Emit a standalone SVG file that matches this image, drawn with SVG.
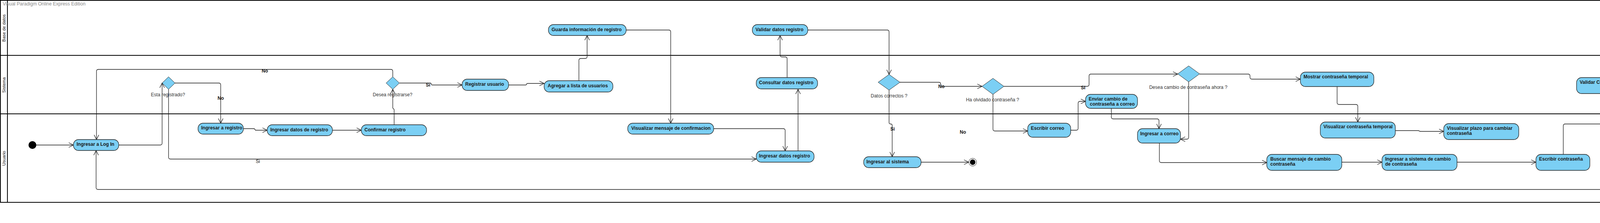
<svg xmlns="http://www.w3.org/2000/svg" width="4994" height="572" viewBox="0 0 4994 572">
<style>
.lane{fill:none;stroke:#000;stroke-width:2}
.lanelbl{font-family:"Liberation Sans",Arial,sans-serif;font-size:11px;fill:#111;text-anchor:middle}
.wm{font-family:"Liberation Sans",Arial,sans-serif;font-size:12px;fill:#8a8a8a}
.node rect{fill:#7BCFF4;stroke:#222;stroke-width:1.3}
.node text{font-family:"Liberation Sans",Arial,sans-serif;font-size:12px;font-weight:bold;fill:#1a1a1a}
.dec polygon{fill:#7BCFF4;stroke:#222;stroke-width:1}
.dec text{font-family:"Liberation Sans",Arial,sans-serif;font-size:12px;fill:#333;text-anchor:middle}
.edges path{fill:none;stroke:#1a1a1a;stroke-width:1.3;marker-end:url(#arr)}
.elabel{font-family:"Liberation Sans",Arial,sans-serif;font-size:12px;fill:#111;text-anchor:middle}
.b{font-weight:bold}
</style>
<defs>
<marker id="arr" markerUnits="userSpaceOnUse" markerWidth="14" markerHeight="14" refX="12" refY="6" orient="auto" viewBox="0 0 14 14" overflow="visible">
<path d="M0,0 L12,6 L0,12" fill="none" stroke="#1a1a1a" stroke-width="1.3"/>
</marker>
</defs>
<rect width="4994" height="572" fill="#fff"/>
<g id="pool">
<rect class="lane" x="1" y="1" width="4497" height="518"/>
<line class="lane" x1="1" y1="142" x2="4498" y2="142"/>
<line class="lane" x1="1" y1="292" x2="4498" y2="292"/>
<line class="lane" x1="19" y1="1" x2="19" y2="519"/>
<text class="lanelbl" x="14" y="72" transform="rotate(-90 14 72)">Base de datos</text>
<text class="lanelbl" x="14" y="218" transform="rotate(-90 14 218)">Sistema</text>
<text class="lanelbl" x="14" y="406" transform="rotate(-90 14 406)">Usuario</text>
</g>
<text class="wm" x="7" y="13.5">Visual Paradigm Online Express Edition</text>
<text class="wm" x="4776" y="565">Visual Paradigm Online Express Edition</text>
<text class="elabel" x="4898" y="378" style="text-anchor:start">Text</text>

<g class="edges" id="connectors">
<path d="M93,372 L188,372"/>
<path d="M304,372 L410,372 Q415,372 415,367 L415,213"/>
<path d="M448,213 L560,213 Q565,213 565,218 L565,316"/>
<path d="M431.5,229 L431.5,403 Q431.5,408 436.5,408 L1936,408"/>
<path d="M623,330 L651,330 L654,334 L684,334"/>
<path d="M851,334 L925,334"/>
<path d="M1009,320 L1009,281 L1005.5,277 L1005.5,229"/>
<path d="M1005.5,197 L1005.5,183 Q1005.5,178 1000.5,178 L252,178 Q247,178 247,183 L247,358"/>
<path d="M1022.7,213 L1101,213 Q1104,213 1104,215.5 Q1104,218 1107,218 L1183,218"/>
<path d="M1302,218 L1345,218 Q1348,218 1348,216 Q1348,214 1351,214 L1393,214"/>
<path d="M1482,207 L1482,155 Q1482,150 1487,150 L1498,150 Q1503,150 1503,145 L1503,91"/>
<path d="M1603,77 L1712,77 Q1717,77 1717,82 L1717,316"/>
<path d="M1827,330 L2005,330 Q2010,330 2010,335 L2010,387"/>
<path d="M2043,387 L2043,229"/>
<path d="M2015,199 L2015,151 Q2015,146 2010,146 L2002,146 Q1997,146 1997,141 L1997,91"/>
<path d="M2068,77 L2271,77 Q2276,77 2276,82 L2276,191"/>
<path d="M2304,211 L2403,211 Q2408,211 2408,215 L2408,217.5 Q2408,221.5 2412,221.5 L2514,221.5"/>
<path d="M2276,231 L2276,314 Q2276,318 2280,318 Q2284,318 2284,322 L2284,402"/>
<path d="M2358,416 L2480,416"/>
<path d="M2570,221.5 L2783,221.5 Q2788,221.5 2788,216.5 L2788,195 Q2788,190 2793,190 L3015,190"/>
<path d="M2542,242 L2542,331 Q2542,336 2547,336 L2631,336"/>
<path d="M2741,334 L2755,334 Q2760,334 2760,329 L2760,265 Q2760,260 2765,260 L2779,260"/>
<path d="M2845,278 L2845,300 Q2845,305 2850,305 L2962,305 Q2967,305 2967,310 L2967,330"/>
<path d="M3043,209 L3043,352 Q3043,357 3038,357 L3022,357"/>
<path d="M3071,190 L3195,190 Q3200,190 3200,195 L3200,198 Q3200,203 3205,203 L3329,203"/>
<path d="M2968,367 L2968,412 Q2968,417 2973,417 L3243,417"/>
<path d="M3423,222 L3423,263 Q3423,268 3428,268 L3471,268 Q3476,268 3476,273 L3476,313"/>
<path d="M3572,335 L3630,335 Q3633,335 3635,337 L3696,337"/>
<path d="M3435,416 L3538,416"/>
<path d="M3730,416 L3932,416"/>
<path d="M4002,396 L4002,323 Q4002,318 4007,318 L4100,318 Q4105,318 4105,313 L4105,240"/>
<path d="M4105,199 L4105,151 Q4105,146 4110,146 L4211,146 Q4216,146 4216,141 L4216,91"/>
<path d="M4286,70 L4328,70 Q4333,70 4333,75 L4333,201"/>
<path d="M4333,243 L4333,315 Q4333,320 4328,320 L4314,320 Q4309,320 4309,325 L4309,395"/>
<path d="M4310,437 L4310,481 Q4310,486 4305,486 L251,486 Q246,486 246,481 L246,386"/>
</g>
<g id="edge-labels">
<text class="elabel b" x="565" y="256">No</text>
<text class="elabel b" x="678" y="186">No</text>
<text class="elabel" x="660" y="418">Si</text>
<text class="elabel b" x="1096" y="222">Si</text>
<text class="elabel b" x="2410" y="226">No</text>
<text class="elabel b" x="2285" y="335">Si</text>
<text class="elabel b" x="2773" y="229">Si</text>
<text class="elabel b" x="2465" y="343">No</text>
</g>

<g id="initial"><circle cx="83" cy="372" r="10" fill="#000"/></g>
<g id="final"><circle cx="2490" cy="416" r="10" fill="#fff" stroke="#222" stroke-width="1"/><circle cx="2490" cy="416" r="7" fill="#000"/></g>

<g class="dec" id="d-registrado"><polygon points="415,213 431.5,197 448,213 431.5,229"/><text x="430" y="247">Esta registrado?</text></g>
<g class="dec" id="d-registrarse"><polygon points="988.5,213 1005.5,197 1022.5,213 1005.5,229"/><text x="1005" y="247">Desea registrarse?</text></g>
<g class="dec" id="d-correctos"><polygon points="2248,211 2276,191 2304,211 2276,231"/><text x="2276" y="250">Datos correctos ?</text></g>
<g class="dec" id="d-olvidado"><polygon points="2514,221.5 2542,201 2570,221.5 2542,242"/><text x="2541" y="260">Ha olvidado contraseña ?</text></g>
<g class="dec" id="d-cambio"><polygon points="3015,189.5 3043,169 3071,189.5 3043,210"/><text x="3042" y="228">Desea cambio de contraseña ahora ?</text></g>

<g class="node" id="n-login"><rect x="188" y="358" width="116" height="28" rx="13"/><text x="196" y="373.5">Ingresar a Log In</text></g>
<g class="node" id="n-ingresar-registro"><rect x="507" y="316" width="116" height="28" rx="13"/><text x="515" y="332">Ingresar a registro</text></g>
<g class="node" id="n-ingresar-datos-de-registro"><rect x="684" y="320" width="167" height="28" rx="13"/><text x="692" y="337">Ingresar datos de registro</text></g>
<g class="node" id="n-confirmar"><rect x="925" y="320" width="167" height="28" rx="13"/><text x="933" y="337">Confirmar registro</text></g>
<g class="node" id="n-registrar-usuario"><rect x="1183" y="203" width="119" height="29" rx="13"/><text x="1191" y="220">Registrar usuario</text></g>
<g class="node" id="n-agregar-lista"><rect x="1393" y="207" width="176" height="29" rx="13"/><text x="1402" y="224">Agregar a lista de usuarios</text></g>
<g class="node" id="n-guarda-info"><rect x="1404" y="63" width="199" height="28" rx="13"/><text x="1412" y="80">Guarda información de registro</text></g>
<g class="node" id="n-visualizar-confirmacion"><rect x="1607" y="316" width="220" height="28" rx="13"/><text x="1616" y="333">Visualizar mensaje de confirmacion</text></g>
<g class="node" id="n-ingresar-datos-registro"><rect x="1936" y="387" width="148" height="29" rx="13"/><text x="1943" y="404">Ingresar datos registro</text></g>
<g class="node" id="n-consultar"><rect x="1936" y="199" width="157" height="29" rx="13"/><text x="1943" y="216">Consultar datos registro</text></g>
<g class="node" id="n-validar-datos"><rect x="1926" y="63" width="142" height="28" rx="13"/><text x="1934" y="80">Validar datos registro</text></g>
<g class="node" id="n-ingresar-sistema"><rect x="2211" y="402" width="147" height="28" rx="13"/><text x="2218" y="419">Ingresar al sistema</text></g>
<g class="node" id="n-escribir-correo"><rect x="2631" y="316" width="110" height="36" rx="13"/><text x="2639" y="333">Escribir correo</text></g>
<g class="node" id="n-enviar-cambio"><rect x="2779" y="242" width="133" height="36" rx="13"/><text x="2787" y="258">Enviar cambio de</text><text x="2790" y="271">contraseña a correo</text></g>
<g class="node" id="n-ingresar-correo"><rect x="2912" y="330" width="110" height="37" rx="13"/><text x="2919" y="347">Ingresar a correo</text></g>
<g class="node" id="n-mostrar-temporal"><rect x="3329" y="185" width="188" height="37" rx="13"/><text x="3337" y="201">Mostrar contraseña temporal</text></g>
<g class="node" id="n-visualizar-temporal"><rect x="3380" y="313" width="192" height="41" rx="13"/><text x="3388" y="329">Visualizar contraseña temporal</text></g>
<g class="node" id="n-buscar-mensaje"><rect x="3243" y="396" width="192" height="41" rx="13"/><text x="3252" y="412">Buscar mensaje de cambio</text><text x="3252" y="424.5">contraseña</text></g>
<g class="node" id="n-ingresar-sistema-cambio"><rect x="3538" y="396" width="192" height="41" rx="13"/><text x="3546" y="412">Ingresar a sistema de cambio</text><text x="3546" y="424.5">de contraseña</text></g>
<g class="node" id="n-visualizar-plazo"><rect x="3696" y="317" width="192" height="41" rx="13"/><text x="3704" y="333">Visualizar plazo para cambiar</text><text x="3704" y="345.5">contraseña</text></g>
<g class="node" id="n-escribir-contrasena"><rect x="3932" y="396" width="138" height="41" rx="13"/><text x="3940" y="412">Escribir contraseña</text></g>
<g class="node" id="n-validar-contrasena"><rect x="4036" y="199" width="138" height="41" rx="13"/><text x="4044" y="215">Validar Contraseña</text></g>
<g class="node" id="n-guardar-contrasena"><rect x="4147" y="50" width="139" height="41" rx="13"/><text x="4155" y="66">Guardar contraseña</text></g>
<g class="node" id="n-mostrar-confirmacion-cambio"><rect x="4223" y="201" width="220" height="42" rx="13"/><text x="4232" y="217.5">Mostrar mensaje de confirmación</text><text x="4232" y="230">de cambio contraseña</text></g>
<g class="node" id="n-visualizar-confirmacion-cambio"><rect x="4199" y="395" width="219" height="42" rx="13"/><text x="4207" y="411">Visualizar mensaje de confirmación</text><text x="4207" y="423.5">de cambio contraseña</text></g>
</svg>
